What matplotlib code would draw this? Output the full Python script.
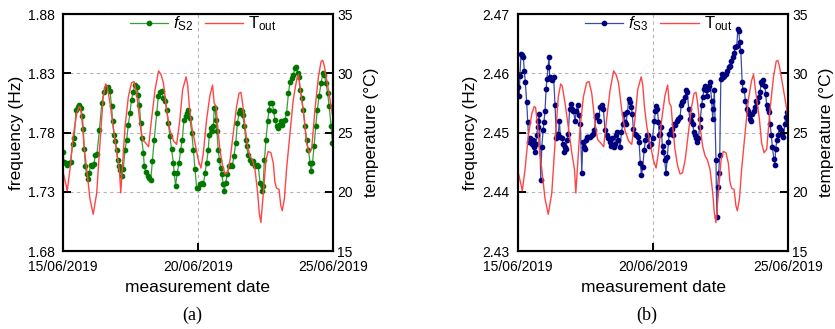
import numpy as np
import matplotlib
matplotlib.use('Agg')
import matplotlib.pyplot as plt

plt.rcParams['font.family'] = ['Liberation Sans', 'DejaVu Sans']
plt.rcParams['mathtext.fontset'] = 'custom'
plt.rcParams['mathtext.rm'] = 'Liberation Sans'
plt.rcParams['mathtext.it'] = 'Liberation Sans:italic'

# x axis: days after 15/06/2019
date_ticks = [0, 5, 10]
date_labels = ['15/06/2019', '20/06/2019', '25/06/2019']

# outdoor temperature (same series in both panels)
t_day = [0.01, 0.14, 0.16, 0.26, 0.38, 0.51, 0.60, 0.65, 0.73, 0.78,
         0.88, 1.00, 1.12, 1.25, 1.37, 1.49, 1.58, 1.64, 1.74, 1.86,
         1.99, 2.09, 2.14, 2.21, 2.30, 2.42, 2.54, 2.63, 2.73, 2.85,
         2.95, 3.07, 3.17, 3.28, 3.41, 3.54, 3.63, 3.72, 3.84, 3.96,
         4.09, 4.21, 4.33, 4.43, 4.56, 4.62, 4.68, 4.77, 4.89, 5.01,
         5.11, 5.20, 5.32, 5.44, 5.54, 5.60, 5.67, 5.73, 5.81, 5.91,
         6.00, 6.09, 6.19, 6.31, 6.43, 6.52, 6.59, 6.65, 6.74, 6.84,
         6.93, 7.01, 7.11, 7.21, 7.27, 7.33, 7.42, 7.52, 7.60, 7.70,
         7.79, 7.85, 7.91, 8.00, 8.07, 8.12, 8.20, 8.28, 8.41, 8.53,
         8.65, 8.72, 8.81, 8.94, 9.02, 9.11, 9.21, 9.33, 9.46, 9.56,
         9.62, 9.68, 9.77, 9.89, 10.0]
t_out = [21.6, 20.3, 20.1, 21.9, 24.7, 26.6, 27.2, 27.1, 25.5, 23.8,
         21.9, 19.4, 18.1, 19.9, 24.1, 28.0, 29.1, 28.9, 27.5, 25.5,
         23.3, 21.9, 19.9, 22.4, 25.5, 28.0, 29.2, 29.3, 28.3, 25.8,
         24.4, 24.1, 23.8, 26.1, 28.6, 30.2, 29.9, 29.2, 26.9, 25.2,
         24.3, 24.0, 26.1, 28.6, 29.7, 29.0, 27.2, 25.5, 24.1, 22.7,
         22.0, 23.3, 26.1, 28.1, 29.0, 27.5, 27.2, 25.5, 23.6, 22.2,
         21.5, 21.6, 22.7, 25.0, 27.2, 28.3, 28.4, 27.5, 25.5, 23.8,
         23.0, 22.7, 21.9, 19.9, 18.2, 17.4, 19.9, 22.7, 23.4, 23.3,
         22.4, 20.8, 20.3, 20.2, 18.8, 18.4, 19.4, 21.9, 25.0, 27.8,
         29.4, 29.9, 28.3, 26.1, 24.1, 23.3, 23.6, 26.9, 29.7, 31.0,
         31.1, 30.6, 29.4, 27.8, 26.2]

# frequency of mode S2 (panel a)
s2_day = [0.00, 0.04, 0.10, 0.16, 0.22, 0.28, 0.36, 0.42, 0.48, 0.54,
          0.59, 0.65, 0.72, 0.75, 0.79, 0.83, 0.88, 0.94, 0.98, 1.02,
          1.09, 1.15, 1.20, 1.26, 1.35, 1.44, 1.52, 1.58, 1.65, 1.74,
          1.80, 1.84, 1.89, 1.94, 1.99, 2.02, 2.07, 2.12, 2.17, 2.23,
          2.30, 2.36, 2.42, 2.48, 2.54, 2.60, 2.67, 2.73, 2.79, 2.83,
          2.88, 2.91, 2.98, 3.01, 3.07, 3.14, 3.20, 3.25, 3.31, 3.38,
          3.47, 3.53, 3.59, 3.65, 3.72, 3.78, 3.84, 3.90, 3.96, 4.02,
          4.09, 4.12, 4.17, 4.23, 4.30, 4.36, 4.42, 4.48, 4.54, 4.59,
          4.64, 4.70, 4.77, 4.83, 4.89, 4.95, 5.01,
          5.07, 5.14, 5.20, 5.26, 5.32, 5.38, 5.42, 5.48, 5.53, 5.57,
          5.60, 5.63, 5.67, 5.70, 5.75, 5.79, 5.84, 5.88, 5.94, 5.98,
          6.02, 6.09, 6.15, 6.22, 6.27, 6.33, 6.40, 6.46, 6.52, 6.56,
          6.62, 6.65, 6.72, 6.77, 6.80, 6.86, 6.93, 6.99, 7.05, 7.11,
          7.17, 7.23, 7.30, 7.36, 7.41, 7.46, 7.52, 7.58, 7.63, 7.68,
          7.75, 7.80, 7.85, 7.91, 7.98, 8.01, 8.06, 8.10, 8.16, 8.22,
          8.28, 8.35, 8.41, 8.47, 8.53, 8.59, 8.63, 8.69, 8.74, 8.78,
          8.84, 8.90, 8.96, 9.02, 9.09, 9.15, 9.19, 9.24, 9.30, 9.36,
          9.42, 9.48, 9.56, 9.62, 9.68, 9.74, 9.80, 9.86, 9.93, 9.98]
s2_freq = [1.7636, 1.7553, 1.7540, 1.7524, 1.7540, 1.7553, 1.7706, 1.7753, 1.7992, 1.8014,
           1.8034, 1.8006, 1.7942, 1.7829, 1.7661, 1.7516, 1.7446, 1.7404, 1.7460, 1.7530,
           1.7521, 1.7538, 1.7614, 1.7622, 1.7824, 1.8048, 1.8146, 1.8174, 1.8182, 1.8154,
           1.8020, 1.7894, 1.7782, 1.7726, 1.7656, 1.7572, 1.7516, 1.7482, 1.7432, 1.7488,
           1.7656, 1.7740, 1.7866, 1.7964, 1.8076, 1.8146, 1.8202, 1.8188, 1.8118, 1.8034,
           1.7880, 1.7754, 1.7628, 1.7516, 1.7465, 1.7437, 1.7418, 1.7398, 1.7558, 1.7740,
           1.7964, 1.8104, 1.8146, 1.8154, 1.8090, 1.8070, 1.7992, 1.7880, 1.7768, 1.7661,
           1.7544, 1.7460, 1.7348, 1.7460, 1.7544, 1.7656, 1.7740, 1.7908, 1.7936, 1.7964,
           1.7992, 1.7922, 1.7796, 1.7656, 1.7488, 1.7334, 1.7334,
           1.7362, 1.7376, 1.7362, 1.7460, 1.7544, 1.7656, 1.7782, 1.7838, 1.7810, 1.7852,
           1.8006, 1.8006, 1.7908, 1.7810, 1.7656, 1.7572, 1.7502, 1.7446, 1.7362, 1.7306,
           1.7376, 1.7446, 1.7516, 1.7530, 1.7516, 1.7600, 1.7712, 1.7880, 1.7964, 1.7992,
           1.7978, 1.7950, 1.7852, 1.7740, 1.7684, 1.7614, 1.7572, 1.7544, 1.7558, 1.7516,
           1.7530, 1.7516, 1.7376, 1.7306, 1.7348, 1.7572, 1.7740, 1.7894, 1.7992, 1.8048,
           1.8048, 1.7978, 1.7908, 1.7852, 1.7838, 1.7866, 1.7894, 1.7866, 1.7894, 1.7908,
           1.7964, 1.8132, 1.8230, 1.8258, 1.8286, 1.8342, 1.8356, 1.8300, 1.8272, 1.8160,
           1.8090, 1.7992, 1.7852, 1.7740, 1.7656, 1.7544, 1.7474, 1.7544, 1.7684, 1.7852,
           1.7992, 1.8104, 1.8216, 1.8300, 1.8286, 1.8216, 1.8132, 1.8020, 1.7852, 1.7712]

# frequency of mode S3 (panel b)
s3_day = [0.01, 0.04, 0.07, 0.11, 0.16, 0.20, 0.23, 0.27, 0.32, 0.36,
          0.40, 0.44, 0.48, 0.53, 0.57, 0.60, 0.63, 0.67, 0.69, 0.73,
          0.75, 0.79, 0.84, 0.88, 0.93, 0.96, 1.00, 1.04, 1.07, 1.11,
          1.15, 1.17, 1.22, 1.27, 1.32, 1.37, 1.42, 1.46, 1.49, 1.53,
          1.57, 1.62, 1.67, 1.70, 1.74, 1.78, 1.81, 1.86, 1.91, 1.95,
          1.99, 2.05, 2.11, 2.16, 2.21, 2.26, 2.31, 2.36, 2.40, 2.43,
          2.48, 2.53, 2.57, 2.60, 2.67, 2.73, 2.78, 2.83, 2.88, 2.91,
          2.98, 3.04, 3.10, 3.16, 3.22, 3.28, 3.33, 3.40, 3.44, 3.49,
          3.54, 3.58, 3.63, 3.67, 3.72, 3.78, 3.83, 3.88, 3.93, 3.96,
          4.00, 4.05, 4.10, 4.15, 4.19, 4.23, 4.27, 4.33, 4.38, 4.43,
          4.48, 4.53, 4.57, 4.62, 4.67, 4.72, 4.77, 4.81, 4.86, 4.91,
          4.98,
          5.05, 5.09, 5.12, 5.16, 5.20, 5.23, 5.27, 5.31, 5.35, 5.38,
          5.43, 5.48, 5.53, 5.57, 5.60, 5.65, 5.69, 5.73, 5.77, 5.81,
          5.88, 5.94, 6.00, 6.04, 6.07, 6.12, 6.19, 6.22, 6.27, 6.32,
          6.36, 6.40, 6.43, 6.47, 6.51, 6.54, 6.58, 6.63, 6.68, 6.72,
          6.75, 6.80, 6.84, 6.89, 6.93, 6.96, 7.00, 7.04, 7.07, 7.11,
          7.17, 7.21, 7.23, 7.27, 7.33, 7.36, 7.39, 7.43, 7.47, 7.51,
          7.54, 7.58, 7.63, 7.69, 7.75, 7.80, 7.85, 7.90, 7.95, 8.00,
          8.05, 8.10, 8.14, 8.17, 8.21, 8.25, 8.30, 8.33, 8.38, 8.42,
          8.47, 8.51, 8.54, 8.58, 8.63, 8.67, 8.72, 8.77, 8.81, 8.86,
          8.91, 8.96, 9.01, 9.05, 9.09, 9.14, 9.17, 9.21, 9.26, 9.30,
          9.33, 9.38, 9.42, 9.47, 9.51, 9.54, 9.59, 9.63, 9.68, 9.73,
          9.78, 9.83, 9.88, 9.91, 9.95, 9.99]
s3_freq = [2.4576, 2.4562, 2.4596, 2.4632, 2.4630, 2.4627, 2.4604, 2.4585, 2.4551, 2.4518,
           2.4484, 2.4490, 2.4484, 2.4481, 2.4487, 2.4476, 2.4467, 2.4481, 2.4495, 2.4509,
           2.4520, 2.4532, 2.4420, 2.4476, 2.4504, 2.4518, 2.4537, 2.4574, 2.4590, 2.4610,
           2.4627, 2.4593, 2.4590, 2.4588, 2.4593, 2.4546, 2.4490, 2.4495, 2.4498, 2.4520,
           2.4492, 2.4490, 2.4481, 2.4467, 2.4476, 2.4473, 2.4487, 2.4498, 2.4540, 2.4548,
           2.4540, 2.4537, 2.4520, 2.4537, 2.4546, 2.4529, 2.4515, 2.4431, 2.4484, 2.4476,
           2.4473, 2.4487, 2.4492, 2.4492, 2.4492, 2.4495, 2.4498, 2.4504, 2.4526, 2.4529,
           2.4520, 2.4543, 2.4546, 2.4540, 2.4504, 2.4495, 2.4490, 2.4484, 2.4478, 2.4490,
           2.4476, 2.4481, 2.4495, 2.4501, 2.4487, 2.4476, 2.4501, 2.4515, 2.4532, 2.4518,
           2.4515, 2.4534, 2.4557, 2.4551, 2.4543, 2.4532, 2.4506, 2.4498, 2.4495, 2.4492,
           2.4484, 2.4448, 2.4428, 2.4442, 2.4470, 2.4487, 2.4495, 2.4495, 2.4478, 2.4481,
           2.4490,
           2.4520, 2.4537, 2.4544, 2.4540, 2.4518, 2.4495, 2.4498, 2.4509, 2.4467, 2.4478,
           2.4453, 2.4432, 2.4459, 2.4484, 2.4498, 2.4504, 2.4506, 2.4495, 2.4515, 2.4512,
           2.4520, 2.4523, 2.4526, 2.4546, 2.4551, 2.4554, 2.4560, 2.4571, 2.4568, 2.4540,
           2.4523, 2.4520, 2.4529, 2.4515, 2.4501, 2.4495, 2.4490, 2.4484, 2.4490, 2.4509,
           2.4523, 2.4546, 2.4560, 2.4574, 2.4579, 2.4571, 2.4562, 2.4574, 2.4579, 2.4585,
           2.4554, 2.4523, 2.4540, 2.4571, 2.4453, 2.4358, 2.4408, 2.4431, 2.4462, 2.4590,
           2.4599, 2.4593, 2.4596, 2.4599, 2.4604, 2.4610, 2.4613, 2.4621, 2.4627, 2.4635,
           2.4644, 2.4646, 2.4675, 2.4672, 2.4652, 2.4638, 2.4585, 2.4571, 2.4571, 2.4554,
           2.4540, 2.4537, 2.4532, 2.4523, 2.4520, 2.4532, 2.4537, 2.4543, 2.4554, 2.4551,
           2.4560, 2.4568, 2.4585, 2.4582, 2.4588, 2.4579, 2.4565, 2.4546, 2.4540, 2.4534,
           2.4515, 2.4495, 2.4476, 2.4456, 2.4445, 2.4473, 2.4487, 2.4495, 2.4509, 2.4504,
           2.4498, 2.4492, 2.4515, 2.4526, 2.4534, 2.4520]

fig = plt.figure(figsize=(8.35, 3.29), dpi=100)


def draw_panel(left, f_day, f_val, f_ticks, f_label, line_col, mark_col, tag):
    ax = fig.add_axes([left, 0.237, 0.3234, 0.7204])
    ax2 = ax.twinx()

    ax.plot(f_day, f_val, '-', color=line_col, lw=0.9, marker='o', ms=3.1,
            mfc=mark_col, mec=mark_col, label=f_label)
    ax2.plot(t_day, t_out, '-', color='#ff4545', lw=1.0, label=r'T$_{\mathrm{out}}$')

    ax.set_xlim(0, 10)
    ax.set_ylim(f_ticks[0], f_ticks[-1])
    ax2.set_ylim(15, 35)
    ax.set_xticks(date_ticks)
    ax.set_xticklabels(date_labels)
    ax.set_yticks(f_ticks)
    ax.set_yticklabels(['%.2f' % v for v in f_ticks])
    ax2.set_yticks([15, 20, 25, 30, 35])

    # dashed grid at the inner ticks
    ax.set_axisbelow(True)
    ax.grid(True, ls=(0, (3, 3)), color='#b5b5b5', lw=0.8)

    ax.tick_params(direction='in', length=6, width=1.4, labelsize=10, pad=6)
    ax.tick_params(axis='x', pad=6.5)
    ax2.tick_params(direction='in', length=6, width=1.4, labelsize=10, pad=3)
    for a in (ax, ax2):
        for s in a.spines.values():
            s.set_linewidth(1.5)

    ax.set_xlabel('measurement date', fontsize=12.5, labelpad=4)
    ax.set_ylabel('frequency (Hz)', fontsize=12.5, labelpad=3)
    ax2.set_ylabel('temperature (°C)', fontsize=12.5, labelpad=8)

    h1, l1 = ax.get_legend_handles_labels()
    h2, l2 = ax2.get_legend_handles_labels()
    ax2.legend(h1 + h2, l1 + l2, loc='upper center', bbox_to_anchor=(0.52, 1.025),
               ncol=2, frameon=False, fontsize=12, numpoints=1, handlelength=2.3,
               columnspacing=0.7, borderaxespad=0.0, handletextpad=0.3)

    fig.text(left + 0.3234 / 2 - 0.007, 0.043, tag, ha='center', va='center',
             fontsize=13, family=['Liberation Serif', 'DejaVu Serif'])
    return ax, ax2


draw_panel(0.0754, s2_day, s2_freq, [1.68, 1.73, 1.78, 1.83, 1.88],
           r'$\mathit{f}_{\mathrm{S2}}$', '#3a9e3a', '#007800', '(a)')
draw_panel(0.6204, s3_day, s3_freq, [2.43, 2.44, 2.45, 2.46, 2.47],
           r'$\mathit{f}_{\mathrm{S3}}$', '#3a4aa8', '#000080', '(b)')

plt.savefig('out.png', dpi=100)
